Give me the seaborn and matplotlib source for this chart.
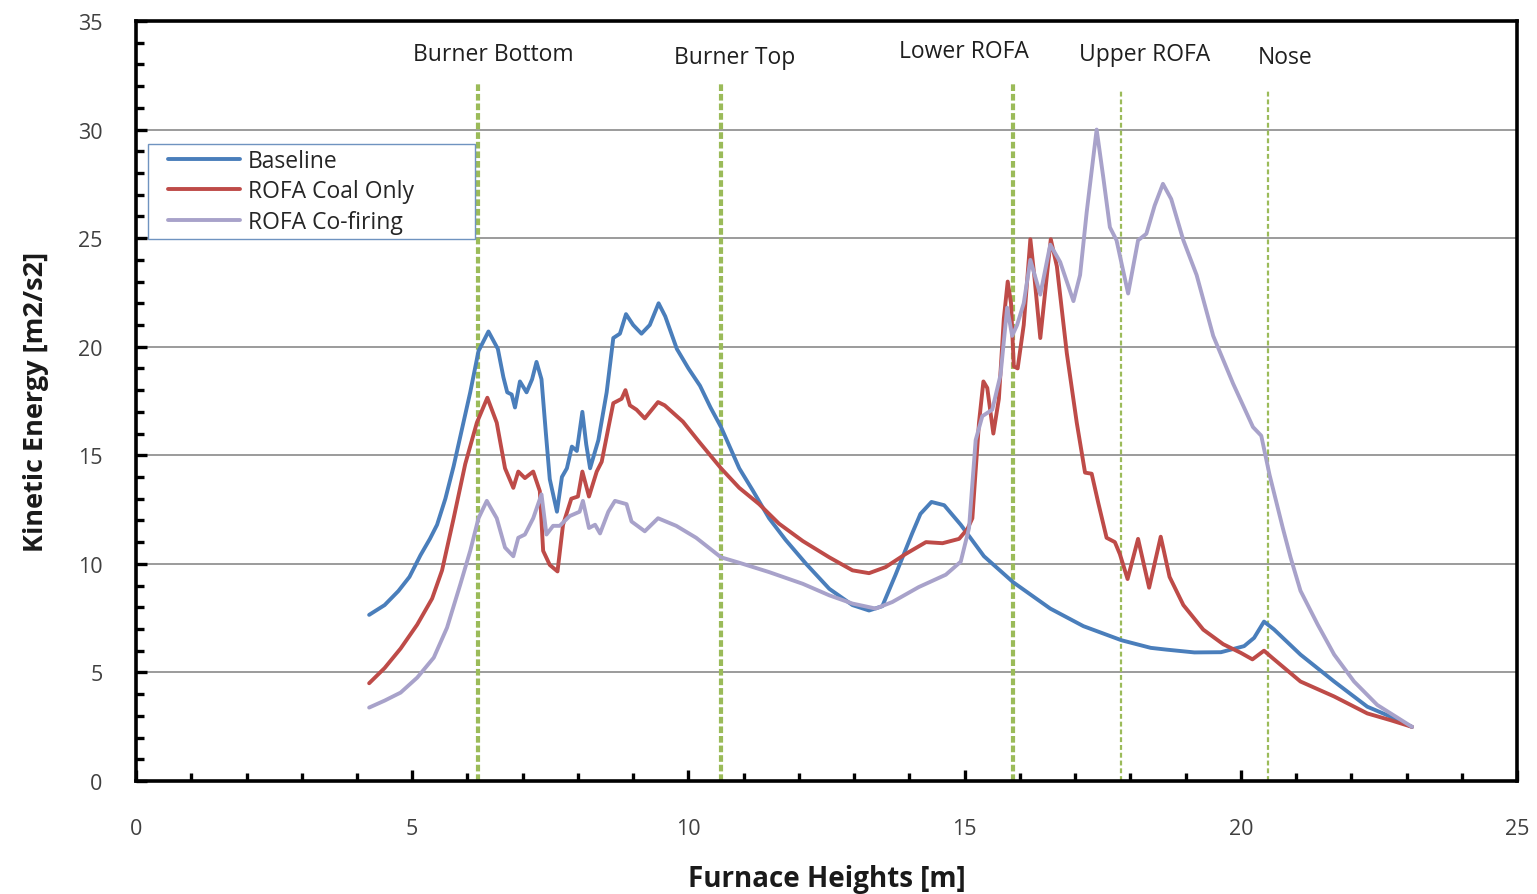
import numpy as np
import pandas as pd
import matplotlib
matplotlib.use("Agg")
import matplotlib.pyplot as plt
from matplotlib.ticker import MultipleLocator
from matplotlib.lines import Line2D
from matplotlib.legend_handler import HandlerLine2D
import seaborn as sns

# Furnace height [m] and kinetic energy [m2/s2] for each case
baseline_x = [4.22, 4.5, 4.75, 4.95, 5.15, 5.32, 5.45, 5.6, 5.75, 5.9, 6.05, 6.2, 6.38, 6.55,
              6.65, 6.72, 6.8, 6.86, 6.95, 7.07, 7.17, 7.25, 7.34, 7.42, 7.49, 7.62, 7.71,
              7.8, 7.89, 7.98, 8.08, 8.15, 8.22, 8.37, 8.52, 8.64, 8.76, 8.87, 9.0, 9.15,
              9.3, 9.46, 9.58, 9.79, 10.0, 10.21, 10.4, 10.59, 10.92, 11.16, 11.46, 11.76,
              12.13, 12.55, 12.97, 13.27, 13.51, 13.75, 14.05, 14.2, 14.4, 14.63, 14.93,
              15.35, 15.88, 16.55, 17.15, 17.84, 18.37, 18.65, 19.16, 19.64, 20.06, 20.24,
              20.42, 20.6, 21.08, 21.69, 22.29, 22.65, 23.1]
baseline_y = [7.65, 8.1, 8.75, 9.4, 10.4, 11.15, 11.8, 13.0, 14.5, 16.2, 17.9, 19.8, 20.7, 19.9,
              18.6, 17.9, 17.8, 17.2, 18.4, 17.9, 18.5, 19.3, 18.5, 16.0, 13.9, 12.4, 14.0,
              14.4, 15.4, 15.2, 17.0, 15.5, 14.4, 15.7, 17.9, 20.4, 20.6, 21.5, 21.0, 20.6,
              21.0, 22.0, 21.4, 19.9, 19.0, 18.2, 17.2, 16.3, 14.4, 13.4, 12.1, 11.1,
              10.0, 8.85, 8.1, 7.85, 8.05, 9.5, 11.4, 12.3, 12.85, 12.7, 11.8,
              10.35, 9.15, 7.94, 7.13, 6.48, 6.13, 6.05, 5.92, 5.93, 6.21, 6.59,
              7.34, 6.98, 5.82, 4.58, 3.42, 3.03, 2.49]

coal_x = [4.22, 4.5, 4.79, 5.09, 5.36, 5.54, 5.75, 5.96, 6.17, 6.36, 6.53, 6.68, 6.83, 6.92,
          7.04, 7.19, 7.31, 7.37, 7.49, 7.63, 7.73, 7.88, 8.0, 8.08, 8.2, 8.34, 8.43, 8.55,
          8.64, 8.79, 8.86, 8.94, 9.06, 9.21, 9.45, 9.57, 9.9, 10.2, 10.59, 10.92, 11.28,
          11.64, 12.07, 12.55, 12.97, 13.27, 13.57, 13.93, 14.3, 14.6, 14.9, 15.05, 15.14,
          15.26, 15.34, 15.41, 15.52, 15.62, 15.71, 15.78, 15.84, 15.89, 15.96, 16.07,
          16.19, 16.26, 16.37, 16.49, 16.56, 16.67, 16.85, 17.03, 17.18, 17.3, 17.42,
          17.57, 17.72, 17.81, 17.95, 18.14, 18.34, 18.55, 18.71, 18.96, 19.32, 19.68,
          20.0, 20.21, 20.42, 20.57, 21.08, 21.69, 22.29, 22.71, 23.1]
coal_y = [4.5, 5.2, 6.1, 7.2, 8.4, 9.7, 12.1, 14.6, 16.5, 17.65, 16.5, 14.4, 13.5, 14.25,
          13.95, 14.25, 13.35, 10.6, 9.95, 9.65, 11.8, 13.0, 13.1, 14.25, 13.1, 14.25, 14.7, 16.25,
          17.4, 17.6, 18.0, 17.3, 17.1, 16.7, 17.45, 17.3, 16.55, 15.6, 14.4, 13.5, 12.75,
          11.85, 11.05, 10.3, 9.7, 9.57, 9.85, 10.45, 11.0, 10.95, 11.15, 11.6, 12.1,
          16.5, 18.4, 18.1, 16.0, 17.6, 21.3, 23.0, 22.0, 19.1, 19.0, 21.0,
          24.95, 23.3, 20.4, 23.3, 24.95, 23.7, 19.7, 16.5, 14.2, 14.15, 12.8,
          11.2, 11.0, 10.45, 9.3, 11.15, 8.9, 11.25, 9.4, 8.1, 6.97, 6.3,
          5.9, 5.6, 6.0, 5.67, 4.58, 3.89, 3.11, 2.8, 2.49]

cofiring_x = [4.22, 4.5, 4.79, 5.09, 5.39, 5.63, 5.87, 6.05, 6.2, 6.35, 6.53, 6.68, 6.83, 6.92,
              7.04, 7.19, 7.34, 7.43, 7.55, 7.67, 7.85, 8.03, 8.09, 8.2, 8.31, 8.4, 8.55,
              8.67, 8.88, 8.97, 9.21, 9.45, 9.78, 10.14, 10.59, 10.92, 11.46, 12.07, 12.55,
              12.97, 13.39, 13.69, 14.17, 14.66, 14.93, 15.08, 15.2, 15.32, 15.5, 15.65,
              15.77, 15.86, 15.95, 16.07, 16.19, 16.37, 16.55, 16.73, 16.97, 17.09, 17.21,
              17.39, 17.51, 17.63, 17.75, 17.96, 18.14, 18.29, 18.44, 18.59, 18.74, 18.96,
              19.2, 19.5, 19.86, 20.22, 20.37, 20.52, 20.76, 20.9, 21.08, 21.39, 21.69,
              22.05, 22.47, 23.1]
cofiring_y = [3.38, 3.7, 4.07, 4.76, 5.68, 7.06, 9.05, 10.6, 12.1, 12.9, 12.1, 10.75, 10.35, 11.2,
              11.35, 12.1, 13.2, 11.35, 11.75, 11.75, 12.2, 12.4, 12.9, 11.65, 11.8, 11.4, 12.4,
              12.9, 12.75, 11.95, 11.5, 12.1, 11.75, 11.2, 10.3, 10.05, 9.62, 9.08, 8.55,
              8.17, 7.94, 8.24, 8.93, 9.5, 10.1, 11.65, 15.7, 16.8, 17.1, 18.7,
              21.8, 20.5, 21.0, 22.0, 24.0, 22.4, 24.7, 23.9, 22.1, 23.3, 26.2,
              30.0, 27.8, 25.5, 24.9, 22.45, 24.9, 25.2, 26.5, 27.5, 26.8, 24.9,
              23.3, 20.5, 18.3, 16.3, 15.9, 14.1, 11.65, 10.3, 8.76, 7.21, 5.82,
              4.58, 3.5, 2.49]

series_names = ["Baseline", "ROFA Coal Only", "ROFA Co-firing"]
series_colors = ["#4A7EBB", "#BE4B48", "#A8A2CA"]

# Reference heights marked with dashed lines
zone_names = ["Burner Bottom", "Burner Top", "Lower ROFA", "Upper ROFA", "Nose"]
zone_x = [6.19, 10.59, 15.88, 17.83, 20.49]
zone_top = [32.1, 32.1, 32.1, 31.8, 31.8]

df = pd.concat([
    pd.DataFrame({"height": baseline_x, "ke": baseline_y, "case": series_names[0]}),
    pd.DataFrame({"height": coal_x, "ke": coal_y, "case": series_names[1]}),
    pd.DataFrame({"height": cofiring_x, "ke": cofiring_y, "case": series_names[2]}),
])

sns.set_style("white")
plt.rcParams["font.family"] = ["Open Sans", "DejaVu Sans"]

fig = plt.figure(figsize=(15.37, 8.95), dpi=100)
ax = fig.add_axes([0.0885, 0.1263, 0.8985, 0.8491])

# Zone markers (drawn first so the curves sit on top)
green = "#9BBB59"
for i, (zx, zt) in enumerate(zip(zone_x, zone_top)):
    if i < 3:
        ax.plot([zx, zx], [0, zt], color=green, lw=3.0, linestyle=(0, (1.6, 0.7)), zorder=2)
    else:
        ax.plot([zx, zx], [0, zt], color=green, lw=1.6, linestyle=(0, (2.2, 1.3)), zorder=2)

sns.lineplot(data=df, x="height", y="ke", hue="case", palette=series_colors,
             hue_order=series_names, sort=False, estimator=None, lw=2.8, ax=ax, zorder=3)

label_pos = [(6.46, 33.5), (10.84, 33.35), (14.99, 33.6), (18.25, 33.5), (20.8, 33.35)]
for name, (lx, ly) in zip(zone_names, label_pos):
    ax.text(lx, ly, name, ha="center", va="center", fontsize=16.5, color="#1f1f1f")

ax.set_xlim(0, 25)
ax.set_ylim(0, 35)
ax.xaxis.set_major_locator(MultipleLocator(5))
ax.xaxis.set_minor_locator(MultipleLocator(1))
ax.yaxis.set_major_locator(MultipleLocator(5))
ax.yaxis.set_minor_locator(MultipleLocator(1))
ax.tick_params(axis="both", which="major", direction="in", length=8, width=2.4,
               labelsize=15.5, labelcolor="#404040", color="black")
ax.tick_params(axis="both", which="minor", direction="in", length=6, width=2.4, color="black")
ax.tick_params(axis="x", which="both", top=False, bottom=True, pad=27)
ax.tick_params(axis="y", which="both", right=False, left=True, pad=24)

ax.grid(axis="y", which="major", color="#8a8a8a", lw=1.2)
ax.grid(axis="x", visible=False)
for s in ["left", "bottom", "top", "right"]:
    ax.spines[s].set_visible(True)
    ax.spines[s].set_color("black")
    ax.spines[s].set_linewidth(2.6)

ax.set_xlabel("Furnace Heights [m]", fontsize=20, fontweight="bold", color="#1a1a1a")
ax.set_ylabel("Kinetic Energy [m2/s2]", fontsize=19.5, fontweight="bold", color="#1a1a1a")
ax.xaxis.set_label_coords(0.5, -0.109)
ax.yaxis.set_label_coords(-0.063, 0.5)

leg_fs = 16.5
leg = ax.legend(loc="upper left", bbox_to_anchor=(0.0087, 0.717, 0.2368, 0.121),
                mode="expand", borderaxespad=0, fontsize=leg_fs,
                handlelength=3.8, handletextpad=0.35, labelspacing=0.27,
                frameon=True, fancybox=False, borderpad=0.22, title=None,
                handler_map={Line2D: HandlerLine2D(xpad=0.65)})
leg.get_frame().set_edgecolor("#6f93c0")
leg.get_frame().set_linewidth(1.0)
leg.get_frame().set_facecolor("white")
leg.get_frame().set_alpha(1.0)
for line in leg.get_lines():
    line.set_linewidth(2.8)

fig.savefig("out.png", dpi=100)
